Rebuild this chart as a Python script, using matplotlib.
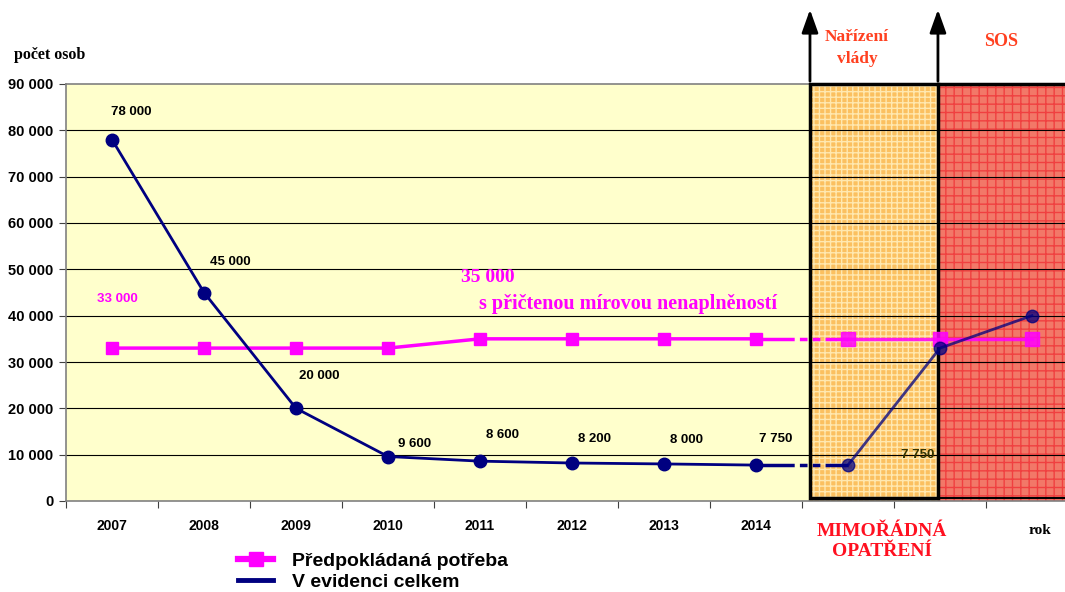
import numpy as np
import matplotlib.pyplot as plt
from matplotlib.patches import Rectangle
import matplotlib.transforms as mtransforms

# data
years = ["2007", "2008", "2009", "2010", "2011", "2012", "2013", "2014"]
potreba = [33000, 33000, 33000, 33000, 35000, 35000, 35000, 35000]
evidence = [78000, 45000, 20000, 9600, 8600, 8200, 8000, 7750]
potreba_future = [35000, 35000, 35000]
evidence_future = [7750, 33000, 40000]
evid_labels = ["78 000", "45 000", "20 000", "9 600", "8 600", "8 200", "8 000", "7 750"]
label_offsets = [(14, 20), (19, 22), (17, 23), (19, 9), (16, 19), (16, 17), (16, 17), (14, 19)]

MAG = "#FF00FF"
NAVY = "#000080"
SANS = "Liberation Sans"
SERIF = "Liberation Serif"

fig = plt.figure(figsize=(10.65, 5.92), dpi=100)
ax = fig.add_axes([66 / 1065, 1 - 501 / 592, 1 - 66 / 1065, 417 / 592])
ax.set_facecolor("#FFFFCC")

x = np.arange(len(years))
xf = np.arange(len(years), len(years) + len(potreba_future))
ax.set_xlim(-0.5, 10.359)
ax.set_ylim(0, 90000)

# regions
x_org0, x_org1, x_end = 7.587, 8.978, 10.359
ax.add_patch(Rectangle((x_org0, 0), x_org1 - x_org0, 90000, facecolor="#FBC060",
                       edgecolor="#FFE8B0", hatch="+++", linewidth=0, zorder=1))
ax.add_patch(Rectangle((x_org1, 0), x_end - x_org1, 90000, facecolor="#F27868",
                       edgecolor="#F04040", hatch="++", linewidth=0, zorder=1))
ax.add_patch(Rectangle((x_org0, 600), x_org1 - x_org0, 89400, fill=False,
                       edgecolor="black", linewidth=2.5, zorder=4, clip_on=False))
ax.plot([x_org1, x_end], [90000, 90000], color="black", lw=2.5, zorder=4, clip_on=False)
ax.plot([x_org1, x_end], [600, 600], color="black", lw=1.5, zorder=4, clip_on=False)

# grid
for v in range(10000, 90000, 10000):
    ax.axhline(v, color="black", lw=0.8, zorder=2)

# arrows above regions
trans = mtransforms.blended_transform_factory(ax.transData, ax.transAxes)
for xa in [x_org0, x_org1]:
    ax.annotate("", xy=(xa, 1.185), xytext=(xa, 1.0), xycoords=trans, textcoords=trans,
                arrowprops=dict(arrowstyle="-|>,head_width=0.5,head_length=1.4",
                                color="black", lw=2), annotation_clip=False)

# lines
ax.plot(x, potreba, color=MAG, lw=2.5, marker="s", ms=9, zorder=5)
ax.plot(x, evidence, color=NAVY, lw=2, marker="o", ms=9, zorder=5)
ax.plot([x[-1], xf[0]], [potreba[-1], potreba_future[0]], color=MAG, lw=2.5,
        dashes=(11, 1.5, 2.2, 1.5, 2.2, 1.5, 200, 1), zorder=5)
ax.plot([x[-1], xf[0]], [evidence[-1], evidence_future[0]], color=NAVY, lw=2.5,
        dashes=(11, 1.5, 2.2, 1.5, 2.2, 1.5, 200, 1), zorder=5)
ax.plot(xf, potreba_future, color=MAG, lw=2.5, marker="s", ms=10, zorder=5, alpha=0.85)
ax.plot(xf, evidence_future, color=NAVY, lw=2, marker="o", ms=9, zorder=5, alpha=0.75)

# data labels
for xi, v, lab, off in zip(x, evidence, evid_labels, label_offsets):
    ax.annotate(lab, (xi, v), xytext=off, textcoords="offset points", ha="center",
                va="center", fontsize=9.5, fontweight="bold", family=SANS, zorder=6)
ax.annotate("7 750", (xf[0], evidence_future[0]), xytext=(50, 7), textcoords="offset points",
            ha="center", va="center", fontsize=9.5, fontweight="bold", family=SANS,
            color="#333300", zorder=6)
ax.annotate("33 000", (x[0], potreba[0]), xytext=(4, 35), textcoords="offset points",
            ha="center", va="center", fontsize=9.5, fontweight="bold", family=SANS,
            color=MAG, zorder=6)
ax.text(4.08, 48300, "35 000", color=MAG, fontsize=14, fontweight="bold", family=SERIF,
        ha="center", va="center", zorder=6)
ax.text(5.61, 42600, "s přičtenou mírovou nenaplněností", color=MAG, fontsize=14.5,
        fontweight="bold", family=SERIF, ha="center", va="center", zorder=6)

# axes styling
ax.set_yticks(range(0, 90001, 10000))
ax.set_yticklabels([f"{v:,}".replace(",", " ") for v in range(0, 90001, 10000)],
                   fontsize=10.5, fontweight="bold", family=SANS)
ax.set_xticks(np.arange(-0.5, 10.4, 1))
ax.set_xticklabels([])
ax.set_xticks(x, minor=True)
ax.set_xticklabels(years, minor=True, fontsize=10, fontweight="bold", family=SANS)
ax.tick_params(axis="x", which="minor", length=0, pad=13)
ax.tick_params(axis="x", which="major", length=5, color="#404040")
ax.tick_params(axis="y", length=5, pad=4, color="#404040")
for s in ["right"]:
    ax.spines[s].set_visible(False)
for s in ["left", "bottom", "top"]:
    ax.spines[s].set_color("#808080")
    ax.spines[s].set_linewidth(1.2)

ax.text(10.09, -6300, "rok", fontsize=11, fontweight="bold", family=SERIF, ha="center", va="center")
ax.text(8.37, -8700, "MIMOŘÁDNÁ\nOPATŘENÍ", color="#FF1020", fontsize=14,
        fontweight="bold", family=SERIF, ha="center", va="center", linespacing=1.2)

fig.text(50 / 1065, 1 - 55 / 592, "počet osob", fontsize=11.5, fontweight="bold", family=SERIF,
         ha="center", va="center")
fig.text(857 / 1065, 1 - 48 / 592, "Nařízení\nvlády", color="#FF4020", fontsize=12.5,
         fontweight="bold", family=SERIF, ha="center", va="center", linespacing=1.45)
fig.text(1001 / 1065, 1 - 42 / 592, "SOS", color="#FF4020", fontsize=13,
         fontweight="bold", family=SERIF, ha="center", va="center")

# legend
h1, = ax.plot([], [], color=MAG, lw=4.5, marker="s", ms=10)
h2, = ax.plot([], [], color=NAVY, lw=3.5)
fig.legend([h1, h2], ["Předpokládaná potřeba", "V evidenci celkem"],
           loc="upper left", bbox_to_anchor=(238 / 1065, 1 - 552 / 592), frameon=False,
           prop={"family": SANS, "weight": "bold", "size": 14}, handlelength=1.8,
           labelspacing=0.2, borderaxespad=0, borderpad=0, handletextpad=1.0)

fig.savefig("out.png", dpi=100)
